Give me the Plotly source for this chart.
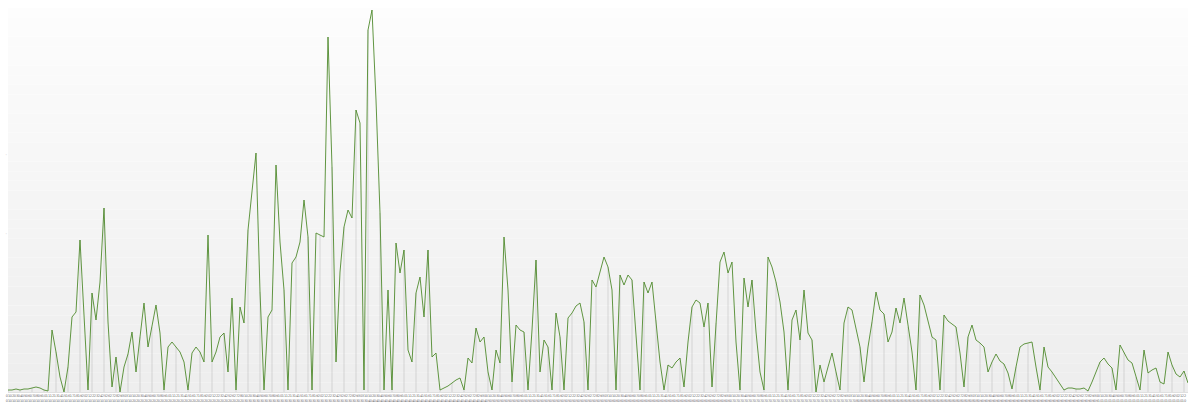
import plotly.graph_objects as go
import pandas as pd

# Series values (one per day)
values = [
    2, 2, 3, 2, 3, 3, 4, 5, 4, 2, 1,            # 8..48
    62, 40, 15, 0, 25, 75, 80, 152, 70, 2,      # 52..88
    99, 72, 110, 184, 70, 5, 35, 0, 25, 38,     # 92..128
    60, 20, 55, 89, 45, 65, 87, 59, 2, 45,      # 132..168
    50, 45, 40, 30, 2, 39, 45, 40, 30, 157,     # 172..208
    30, 40, 55, 59, 20, 94, 2, 85, 69, 162,     # 212..248
    200, 239, 100, 2, 75, 82, 227, 150, 102, 2, # 252..288
    129, 135, 150, 192, 155, 2, 159, 157, 155, 355,  # 292..328
    225, 30, 120, 165, 182, 174, 282, 269, 2, 362,   # 332..368
    382, 292, 179, 2, 102, 2, 149, 119, 142, 42,     # 372..408
    30, 99, 115, 75, 142, 35, 39, 2, 4, 6,           # 412..448
    9, 12, 14, 2, 34, 29, 64, 50, 55, 20,            # 452..488
    2, 42, 29, 155, 102, 10, 67, 62, 60, 2,          # 492..528
    62, 132, 20, 52, 45, 2, 79, 55, 2, 74,           # 532..568
    79, 86, 89, 70, 2, 112, 105, 120, 135, 125,      # 572..608
    102, 2, 117, 107, 117, 112, 60, 2, 110, 99,      # 612..648
    110, 72, 30, 2, 27, 24, 30, 34, 5, 50,           # 652..688
    85, 92, 89, 65, 89, 5, 69, 130, 140, 119,        # 692..728
    130, 50, 2, 114, 85, 112, 60, 20, 2, 135,        # 732..768
    125, 110, 90, 60, 2, 72, 82, 52, 102, 59,        # 772..808
    52, 0, 27, 10, 25, 39, 20, 2, 69, 85,            # 812..848
    82, 62, 45, 10, 45, 70, 100, 82, 78, 50,         # 852..888
    60, 84, 69, 94, 65, 40, 2, 97, 87, 70,           # 892..928
    55, 52, 2, 77, 71, 68, 65, 39, 5, 55,            # 932..968
    67, 52, 49, 45, 20, 30, 38, 31, 28, 19,          # 972..1008
    3, 25, 45, 48, 49, 50, 25, 2, 45, 25,            # 1012..1048
    20, 14, 8, 2, 4, 4, 3, 3, 4, 1,                  # 1052..1088
    10, 20, 30, 34, 28, 24, 2, 47, 40, 32,           # 1092..1128
    29, 15, 2, 42, 19, 22, 24, 10, 8, 40,            # 1132..1168
    27, 18, 15, 21, 9,                               # 1172..1188
]

# Categories (days) and tick labels
start_day = "2013-01-01"
dates = pd.date_range(start_day, periods=len(values), freq="D")
tick_format = "%d<br>%m"
y_tick_vals = [158, 237]
y_tick_text = ["-", "-"]

# drop lines on every third point
drop = [v if i % 3 == 0 else 0 for i, v in enumerate(values)]

fig = go.Figure()
fig.add_trace(go.Scatter(
    x=dates, y=values, mode="lines",
    line=dict(color="#4f8a2c", width=0.9),
    error_y=dict(type="data", symmetric=False, array=[0] * len(values),
                 arrayminus=drop, color="rgba(175,175,175,0.7)",
                 thickness=0.6, width=0),
    hoverinfo="skip",
))

# vertical gradient background (white at top to light grey at bottom)
bands = 40
shapes = []
for k in range(bands):
    t = k / (bands - 1)
    c = int(238 + (253 - 238) * t)
    shapes.append(dict(type="rect", xref="paper", yref="paper",
                       x0=0, x1=1, y0=k / bands, y1=(k + 1) / bands,
                       fillcolor=f"rgb({c},{c},{c})", line=dict(width=0),
                       layer="below"))

fig.update_layout(
    width=1190, height=403,
    margin=dict(l=8, r=2, t=8, b=11, autoexpand=False),
    paper_bgcolor="white",
    plot_bgcolor="rgba(0,0,0,0)",
    showlegend=False,
    shapes=shapes,
    font=dict(family="DejaVu Sans"),
    xaxis=dict(range=[dates[0], dates[-1]], showgrid=False, zeroline=False,
               automargin=False,
               tickmode="linear", tick0=dates[0], dtick=86400000,
               tickformat=tick_format, tickangle=0,
               tickfont=dict(size=3.5, color="#6a6a6a"), ticks="",
               showline=True, linecolor="#e0e0e0", linewidth=1),
    yaxis=dict(range=[0, 384], showgrid=False, zeroline=False,
               automargin=False,
               tickvals=y_tick_vals, ticktext=y_tick_text,
               tickfont=dict(size=4, color="#b0b0b0"), ticks=""),
)

fig.write_html("out.html",
               config={"displayModeBar": False},
               post_script="document.body.style.margin='0px';"
                           "document.body.style.padding='0px';")
